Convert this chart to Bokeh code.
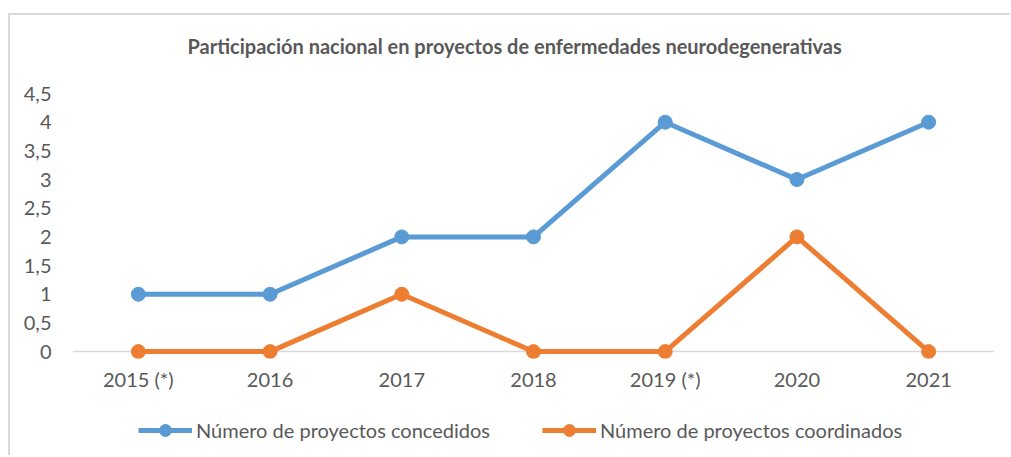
from bokeh.plotting import figure
from bokeh.models import FactorRange, Range1d, FixedTicker, Span, Legend, LegendItem, Title
from bokeh.layouts import column
from bokeh.embed import file_html
from bokeh.resources import INLINE

# ---- data ----
years = ["2015 (*)", "2016", "2017", "2018", "2019 (*)", "2020", "2021"]
concedidos = [1, 1, 2, 2, 4, 3, 4]
coordinados = [0, 0, 1, 0, 0, 2, 0]
yticks = [0, 0.5, 1, 1.5, 2, 2.5, 3, 3.5, 4, 4.5]
ytick_labels = ["0", "0,5", "1", "1,5", "2", "2,5", "3", "3,5", "4", "4,5"]
title_text = "Participación nacional en proyectos de enfermedades neurodegenerativas"
names = ["Número de proyectos concedidos", "Número de proyectos coordinados"]

BLUE = "#5B9BD5"
ORANGE = "#ED7D31"
TXT = "#595959"
FONT = "Lato"

# ---- main chart ----
p = figure(x_range=FactorRange(*years, range_padding=0),
           y_range=Range1d(-0.12, 4.5),
           width=1000, height=393, output_backend="svg", toolbar_location=None,
           min_border_left=62, min_border_right=16, min_border_top=78, min_border_bottom=50)
p.outline_line_color = None
p.xgrid.grid_line_color = None
p.ygrid.grid_line_color = None

p.add_layout(Title(text=" ", text_font_size="17px"), "above")
p.add_layout(Title(text=title_text, align="left", text_font=FONT, text_font_size="20px",
                   text_font_style="bold", text_color=TXT, offset=115), "above")

base = Span(location=0, dimension="width", line_color="#d9d9d9", line_width=1.5, level="underlay")
p.add_layout(base)

p.line(years, concedidos, line_color=BLUE, line_width=5)
p.scatter(years, concedidos, size=14, fill_color=BLUE, line_color=BLUE)
p.line(years, coordinados, line_color=ORANGE, line_width=5)
p.scatter(years, coordinados, size=14, fill_color=ORANGE, line_color=ORANGE)

for ax in (p.xaxis[0], p.yaxis[0]):
    ax.axis_line_color = None
    ax.major_tick_line_color = None
    ax.minor_tick_line_color = None
    ax.major_label_text_font = FONT
    ax.major_label_text_font_size = "20px"
    ax.major_label_text_color = TXT
p.xaxis.major_label_standoff = 2
p.yaxis.major_label_standoff = 15
p.yaxis.ticker = FixedTicker(ticks=yticks)
p.yaxis.major_label_overrides = {t_: l for t_, l in zip(yticks, ytick_labels)}

# ---- legend strip (same series, drawn off-view; only the legend shows) ----
lg = figure(x_range=FactorRange(*years, range_padding=0), y_range=Range1d(100, 101),
            width=1000, height=47, output_backend="svg", toolbar_location=None,
            x_axis_type=None, y_axis_type=None,
            min_border_left=62, min_border_right=16, min_border_top=0, min_border_bottom=0)
lg.outline_line_color = None
lg.xgrid.grid_line_color = None
lg.ygrid.grid_line_color = None
r1 = lg.line(years, concedidos, line_color=BLUE, line_width=5)
s1 = lg.scatter(years, concedidos, size=14, fill_color=BLUE, line_color=BLUE)
r2 = lg.line(years, coordinados, line_color=ORANGE, line_width=5)
s2 = lg.scatter(years, coordinados, size=14, fill_color=ORANGE, line_color=ORANGE)
legend = Legend(items=[LegendItem(label=names[0], renderers=[r1, s1]),
                       LegendItem(label=names[1], renderers=[r2, s2])],
                orientation="horizontal", location=(66, 10),
                padding=0, margin=0, spacing=52, glyph_width=54, glyph_height=30,
                label_standoff=4, label_text_font=FONT, label_text_font_size="20px",
                label_text_color=TXT, border_line_color=None, background_fill_alpha=0)
lg.add_layout(legend, "center")

layout = column(p, lg, spacing=0)
layout.styles = {"margin-left": "8px", "margin-top": "13px",
                 "border-top": "2px solid #d9d9d9", "border-left": "2px solid #d9d9d9"}

open("out.html", "w").write(file_html(layout, INLINE))
